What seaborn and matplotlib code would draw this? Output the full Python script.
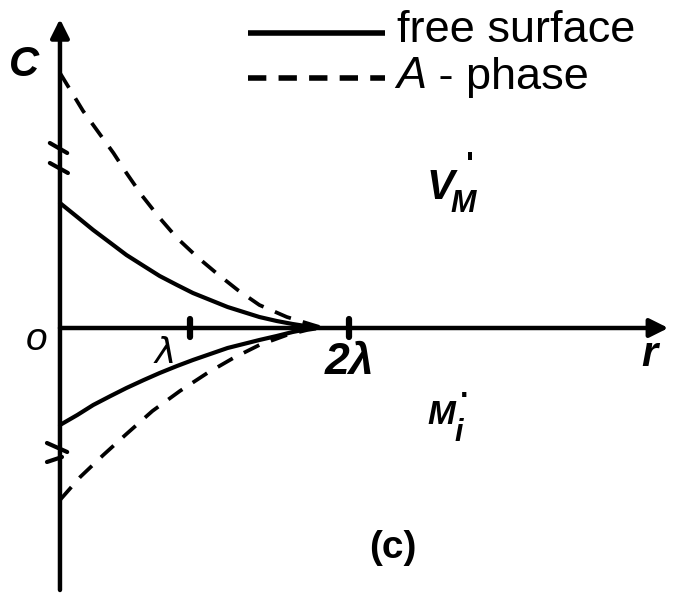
import numpy as np
import pandas as pd
import matplotlib
matplotlib.use("Agg")
import matplotlib.pyplot as plt
import seaborn as sns

# Radial profiles (r in units of lambda, C in arbitrary units)
r_up_dash = [0.0, 0.16, 0.29, 0.37, 0.46, 0.57, 0.69, 0.81, 0.95, 1.09, 1.23, 1.38, 1.57, 1.75, 1.82]
c_up_dash = [2.55, 2.17, 1.91, 1.75, 1.55, 1.32, 1.10, 0.90, 0.71, 0.54, 0.38, 0.23, 0.11, 0.03, 0.0]

r_up_solid = [0.0, 0.12, 0.23, 0.35, 0.46, 0.58, 0.69, 0.81, 0.92, 1.04, 1.16, 1.27, 1.38, 1.50, 1.61, 1.72, 1.80]
c_up_solid = [1.25, 1.11, 0.98, 0.85, 0.73, 0.62, 0.52, 0.43, 0.35, 0.28, 0.21, 0.16, 0.11, 0.07, 0.04, 0.015, 0.0]

r_lo_solid = [0.0, 0.12, 0.23, 0.35, 0.46, 0.58, 0.69, 0.81, 0.92, 1.04, 1.16, 1.27, 1.38, 1.50, 1.61, 1.75]
c_lo_solid = [-0.97, -0.87, -0.77, -0.68, -0.60, -0.52, -0.45, -0.38, -0.32, -0.26, -0.20, -0.16, -0.12, -0.08, -0.04, 0.0]

r_lo_dash = [0.0, 0.14, 0.30, 0.46, 0.64, 0.83, 1.02, 1.20, 1.38, 1.57, 1.71, 1.80]
c_lo_dash = [-1.72, -1.49, -1.27, -1.06, -0.83, -0.63, -0.45, -0.30, -0.17, -0.07, -0.02, 0.0]

tick_pos = [0.9, 2.0]
tick_labels = ["λ", "2λ"]

frames = []
for name, kind, rr, cc in [
    ("V_M A", "A - phase", r_up_dash, c_up_dash),
    ("V_M fs", "free surface", r_up_solid, c_up_solid),
    ("M_i fs", "free surface", r_lo_solid, c_lo_solid),
    ("M_i A", "A - phase", r_lo_dash, c_lo_dash),
]:
    frames.append(pd.DataFrame({"r": rr, "C": cc, "curve": name, "kind": kind}))
df = pd.concat(frames, ignore_index=True)

sns.set_theme(style="white")
plt.rcParams["font.family"] = ["Liberation Sans", "DejaVu Sans"]
plt.rcParams["text.color"] = "black"

fig = plt.figure(figsize=(6.78, 6.03), dpi=100)
ax = fig.add_axes([0, 0, 1, 1])
ax.set_xlim(-0.415, 4.277)
ax.set_ylim(-2.75, 3.28)
ax.axis("off")

for name, sub in df.groupby("curve", sort=False):
    dashed = sub["kind"].iloc[0] == "A - phase"
    sns.lineplot(data=sub, x="r", y="C", ax=ax, color="black", sort=False,
                 lw=2.7 if dashed else 3.0, estimator=None,
                 linestyle=(0, (4.6, 3.3)) if dashed else "-", legend=False)

# Axes with arrowheads
arrow = dict(arrowstyle="-|>", mutation_scale=28, lw=3.2, color="black",
             shrinkA=0, shrinkB=0)
ax.annotate("", xy=(0, 3.09), xytext=(0, -2.62), arrowprops=arrow)
ax.annotate("", xy=(4.21, 0), xytext=(0, 0), arrowprops=arrow)

# Tick marks on r axis
for t in tick_pos:
    ax.plot([t, t], [-0.09, 0.09], color="black", lw=4.5, solid_capstyle="round")

# Axis break marks
break_marks = [((-0.07, 1.85), (0.05, 1.75)), ((-0.07, 1.65), (0.055, 1.55)),
               ((-0.09, -1.15), (0.05, -1.24)), ((-0.09, -1.34), (0.014, -1.29))]
for (x0, y0), (x1, y1) in break_marks:
    ax.plot([x0, x1], [y0, y1], color="black", lw=3)

# Labels
ax.text(-0.25, 2.63, "C", fontsize=30, style="italic", weight="bold", ha="center", va="center")
ax.text(-0.16, -0.12, "o", fontsize=28, style="italic", ha="center", va="center")
ax.text(tick_pos[0] - 0.17, -0.25, tick_labels[0], fontsize=26, family="DejaVu Sans",
        style="italic", ha="center", va="center")
ax.text(tick_pos[1] + 0.0, -0.35, tick_labels[1], fontsize=32, weight="bold",
        style="italic", ha="center", va="center")
ax.text(4.08, -0.27, "r", fontsize=30, style="italic", weight="bold", ha="center", va="center")

ax.text(2.63, 1.40, "V", fontsize=30, style="italic", weight="bold", ha="center", va="center")
ax.text(2.79, 1.24, "M", fontsize=22, style="italic", weight="bold", ha="center", va="center")
ax.text(2.84, 1.62, "'", fontsize=24, weight="bold", ha="center", va="center")

ax.text(2.64, -0.87, "M", fontsize=24, style="italic", weight="bold", ha="center", va="center")
ax.text(2.76, -1.05, "i", fontsize=22, style="italic", weight="bold", ha="center", va="center")
ax.text(2.80, -0.69, "·", fontsize=22, weight="bold", ha="center", va="center")

ax.text(2.30, -2.20, "(c)", fontsize=28, weight="bold", ha="center", va="center")

# Key
ax.plot([1.30, 2.25], [2.95, 2.95], color="black", lw=4, solid_capstyle="butt")
ax.plot([1.30, 2.25], [2.50, 2.50], color="black", lw=4, linestyle=(0, (3.3, 2.2)))
ax.text(2.33, 2.98, "free surface", fontsize=32.5, ha="left", va="center")
ax.text(2.33, 2.51, "A", fontsize=32.5, style="italic", ha="left", va="center")
ax.text(2.53, 2.51, " - phase", fontsize=32.5, ha="left", va="center")

fig.savefig("out.png", dpi=100, facecolor="white")
